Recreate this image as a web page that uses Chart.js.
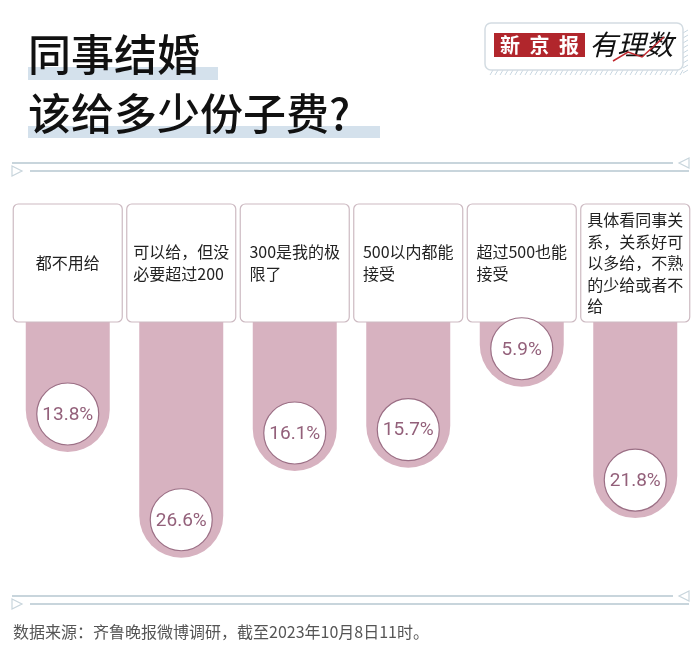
<!DOCTYPE html>
<html>
<head>
<meta charset="utf-8">
<script src="https://cdn.jsdelivr.net/npm/chart.js@4/dist/chart.umd.min.js"></script>
<style>
html, body { margin: 0; background: #fff; }
#wrap { width: 700px; height: 661px; }
</style>
</head>
<body>
<div id="wrap"><canvas id="chart" width="700" height="661"></canvas></div>
<script>
// survey answers (card text, already split into lines as printed)
var categories = [
    ['都不用给'],
    ['可以给，但没', '必要超过200'],
    ['300是我的极', '限了'],
    ['500以内都能', '接受'],
    ['超过500也能', '接受'],
    ['具体看同事关', '系，关系好可', '以多给，不熟', '的少给或者不', '给']
];
var shares = [13.8, 26.6, 16.1, 15.7, 5.9, 21.8];
var titleLines = ['同事结婚', '该给多少份子费?'];
var sourceNote = '数据来源：齐鲁晚报微博调研，截至2023年10月8日11时。';

var CJK = '"Noto Sans CJK SC", "Noto Sans", sans-serif';
var barColor = '#d7b2c0';
var lineColor = '#c8d5dc';

function rr(ctx, x, y, w, h, r) {
    ctx.beginPath();
    ctx.moveTo(x + r, y);
    ctx.arcTo(x + w, y, x + w, y + h, r);
    ctx.arcTo(x + w, y + h, x, y + h, r);
    ctx.arcTo(x, y + h, x, y, r);
    ctx.arcTo(x, y, x + w, y, r);
    ctx.closePath();
}

function separator(ctx, y) {
    ctx.save();
    ctx.strokeStyle = lineColor;
    ctx.lineWidth = 2;
    ctx.beginPath();
    ctx.moveTo(12, y); ctx.lineTo(673, y);
    ctx.moveTo(30, y + 8); ctx.lineTo(689, y + 8);
    ctx.stroke();
    ctx.lineWidth = 1.2;
    ctx.beginPath(); // left-pointing marker, right end
    ctx.moveTo(689, y - 5); ctx.lineTo(679, y); ctx.lineTo(689, y + 5); ctx.closePath();
    ctx.stroke();
    ctx.beginPath(); // right-pointing marker, left end
    ctx.moveTo(12, y + 3); ctx.lineTo(22, y + 8); ctx.lineTo(12, y + 13); ctx.closePath();
    ctx.stroke();
    ctx.restore();
}

var decor = {
    id: 'decor',
    beforeDatasetsDraw: function (chart) {
        var ctx = chart.ctx;
        ctx.save();
        // title with highlight strips
        ctx.fillStyle = '#d4e1ec';
        ctx.fillRect(28, 67, 190, 13);
        ctx.fillRect(28, 126, 352, 12);
        ctx.fillStyle = '#111';
        ctx.font = '500 43px ' + CJK;
        ctx.textBaseline = 'middle';
        ctx.textAlign = 'left';
        ctx.fillText(titleLines[0], 28, 55);
        ctx.fillText(titleLines[1], 28, 114);

        // logo
        ctx.strokeStyle = '#c9d7e1';
        ctx.lineWidth = 1;
        for (var hx = 490; hx < 684; hx += 5) {
            ctx.beginPath(); ctx.moveTo(hx, 75); ctx.lineTo(hx + 3, 70); ctx.stroke();
        }
        for (var hy = 30; hy < 72; hy += 5) {
            ctx.beginPath(); ctx.moveTo(683, hy + 3); ctx.lineTo(688, hy); ctx.stroke();
        }
        rr(ctx, 485, 23, 198, 47, 6);
        ctx.fillStyle = '#fff';
        ctx.fill();
        ctx.strokeStyle = '#d3dce2';
        ctx.lineWidth = 1.5;
        ctx.stroke();
        ctx.fillStyle = '#b1262c';
        ctx.fillRect(494, 33, 91, 24);
        ctx.fillStyle = '#fff';
        ctx.font = 'bold 20px ' + CJK;
        ctx.textAlign = 'center';
        ['新', '京', '报'].forEach(function (c, n) { ctx.fillText(c, 510 + n * 29.5, 45); });
        ctx.save();
        ctx.translate(634, 44);
        ctx.transform(1, 0, -0.25, 1, 0, 0);
        ctx.fillStyle = '#111';
        ctx.font = '28px ' + CJK;
        ctx.fillText('有理数', 0, 0);
        ctx.restore();
        ctx.strokeStyle = '#c0282e';
        ctx.lineWidth = 1.5;
        ctx.beginPath();
        ctx.moveTo(613, 61); ctx.lineTo(628, 52); ctx.lineTo(642, 57); ctx.lineTo(664, 37);
        ctx.stroke();

        separator(ctx, 163);
        separator(ctx, 596);

        ctx.fillStyle = '#555';
        ctx.font = '16px ' + CJK;
        ctx.textAlign = 'left';
        ctx.fillText(sourceNote, 13, 632);
        ctx.restore();
    },
    afterDatasetsDraw: function (chart) {
        var ctx = chart.ctx;
        var xs = chart.scales.x;
        var bars = chart.getDatasetMeta(0).data;
        ctx.save();
        ctx.textBaseline = 'middle';
        categories.forEach(function (lines, i) {
            var cx = xs.getPixelForValue(i);
            rr(ctx, cx - 54.5, 204, 109, 118, 5);
            ctx.fillStyle = '#fff';
            ctx.fill();
            ctx.strokeStyle = '#cdbac2';
            ctx.lineWidth = 1.2;
            ctx.stroke();

            ctx.fillStyle = '#222';
            ctx.font = '16px ' + CJK;
            ctx.textAlign = 'left';
            var maxW = 0;
            lines.forEach(function (l) { maxW = Math.max(maxW, ctx.measureText(l).width); });
            var lh = 21.5;
            var y0 = 263 - (lines.length - 1) * lh / 2;
            lines.forEach(function (l, k) { ctx.fillText(l, cx - maxW / 2, y0 + k * lh); });

            // value bubble at the foot of each bar
            var el = bars[i];
            var cy = el.y - 38;
            ctx.beginPath();
            ctx.arc(el.x, cy, 31, 0, Math.PI * 2);
            ctx.fillStyle = '#fff';
            ctx.fill();
            ctx.strokeStyle = '#9b6f85';
            ctx.lineWidth = 1.2;
            ctx.stroke();
            ctx.fillStyle = '#93607a';
            ctx.font = '19px Roboto, "Noto Sans", sans-serif';
            ctx.textAlign = 'center';
            ctx.fillText(shares[i].toFixed(1) + '%', el.x, cy + 1);
        });
        ctx.restore();
    }
};

var chart = new Chart(document.getElementById('chart').getContext('2d'), {
    type: 'bar',
    data: {
        labels: categories,
        datasets: [{
            data: shares,
            base: -5,
            backgroundColor: barColor,
            borderWidth: 0,
            borderSkipped: false,
            borderRadius: { topLeft: 0, topRight: 0, bottomLeft: 42, bottomRight: 42 },
            barPercentage: 0.74,
            categoryPercentage: 1
        }]
    },
    options: {
        responsive: false,
        animation: false,
        devicePixelRatio: 1,
        layout: { padding: { left: 11, right: 8, top: 296.7, bottom: 95.8 } },
        plugins: { legend: { display: false }, tooltip: { enabled: false } },
        scales: {
            x: { display: false },
            y: { display: false, reverse: true, min: -5, max: 27.5 }
        }
    },
    plugins: [decor]
});
</script>
</body>
</html>
